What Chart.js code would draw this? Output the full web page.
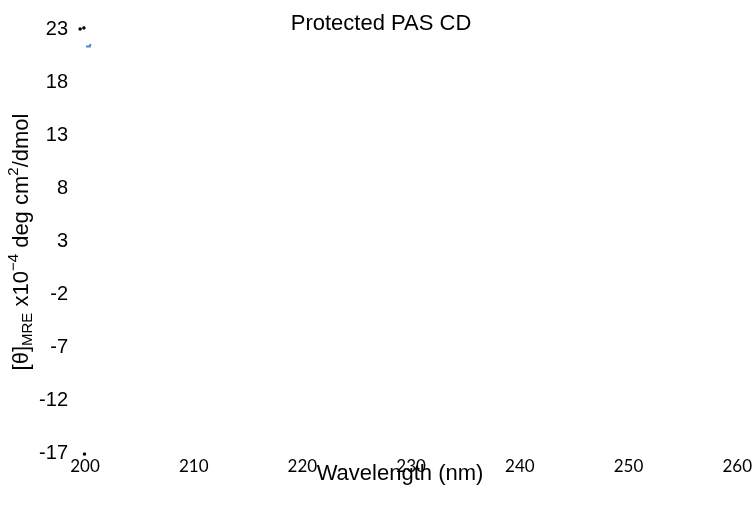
<!DOCTYPE html>
<html>
<head>
<meta charset="utf-8">
<script src="https://cdn.jsdelivr.net/npm/chart.js@4"></script>
<style>
  html, body { margin: 0; padding: 0; background: #fff; }
  #wrap { width: 755px; height: 514px; }
</style>
</head>
<body>
<div id="wrap"><canvas id="myChart"></canvas></div>
<script>
// data (most of the trace falls outside the axis range)
// not sorted on x, so Chart.js keeps every point even left of x = 200
var blackX = [199.9, 199.55, 199.95];
var blackY = [23.1, 23, -17.1];
var blueX = [200.1, 200.45, 200.5];
var blueY = [21.35, 21.35, 21.6];
var xTicks = [200, 210, 220, 230, 240, 250, 260];
var yTicks = [-17, -12, -7, -2, 3, 8, 13, 18, 23];

function pts(xs, ys) {
    return xs.map(function (x, i) { return { x: x, y: ys[i] }; });
}

// titles drawn by hand so the subscript / superscript come out right
var titles = {
    id: 'titles',
    afterDraw: function (chart) {
        var c = chart.ctx;
        c.save();
        c.fillStyle = '#000';
        c.textBaseline = 'middle';
        c.textAlign = 'center';
        c.font = '22px "Liberation Sans", Arial, sans-serif';
        c.fillText('Protected PAS CD', 381, 24);
        c.fillText('Wavelength (nm)', 400, 474);

        // y title, rotated
        var parts = [
            { t: '[θ]', f: 22, dy: 0 },
            { t: 'MRE', f: 15, dy: 6 },
            { t: ' x10', f: 22, dy: 0 },
            { t: '−4', f: 15, dy: -8 },
            { t: ' deg cm', f: 22, dy: 0 },
            { t: '2', f: 15, dy: -8 },
            { t: '/dmol', f: 22, dy: 0 }
        ];
        var total = 0;
        parts.forEach(function (p) {
            c.font = p.f + 'px "Liberation Sans", Arial, sans-serif';
            p.w = c.measureText(p.t).width;
            total += p.w;
        });
        c.translate(22, 242);
        c.rotate(-Math.PI / 2);
        c.textAlign = 'left';
        var x = -total / 2;
        parts.forEach(function (p) {
            c.font = p.f + 'px "Liberation Sans", Arial, sans-serif';
            c.fillText(p.t, x, p.dy);
            x += p.w;
        });
        c.restore();
    }
};

var ctx = document.getElementById('myChart').getContext('2d');
var chart1 = new Chart(ctx, {
    type: 'scatter',
    data: {
        datasets: [{
            label: 'trace',
            data: pts(blackX, blackY),
            backgroundColor: '#000',
            borderColor: '#000',
            pointStyle: 'rect',
            pointRadius: 1.5,
            showLine: false,
            clip: false
        }, {
            label: 'fit',
            data: pts(blueX, blueY),
            borderColor: '#4A86C8',
            borderWidth: 2,
            pointRadius: 0,
            showLine: true,
            clip: false
        }]
    },
    options: {
        responsive: true,
        maintainAspectRatio: false,
        animation: false,
        layout: { padding: { top: 28, right: 12, left: 0, bottom: 0 } },
        plugins: {
            legend: { display: false },
            title: { display: false },
            tooltip: { enabled: false }
        },
        scales: {
            x: {
                type: 'linear',
                min: 200,
                max: 260,
                afterBuildTicks: function (s) { s.ticks = xTicks.map(function (v) { return { value: v }; }); },
                afterFit: function (s) { s.height = 61; },
                grid: { display: false, drawTicks: false },
                border: { display: false },
                ticks: {
                    color: '#000',
                    padding: 3,
                    maxRotation: 0,
                    font: { family: 'Lato, "Open Sans", sans-serif', size: 17 }
                }
            },
            y: {
                min: -17,
                max: 23,
                afterBuildTicks: function (s) { s.ticks = yTicks.map(function (v) { return { value: v }; }); },
                afterFit: function (s) { s.width = 85; },
                grid: { display: false, drawTicks: false },
                border: { display: false },
                ticks: {
                    color: '#000',
                    padding: 17,
                    font: { family: '"Liberation Sans", Arial, sans-serif', size: 20 }
                }
            }
        }
    },
    plugins: [titles]
});
</script>
</body>
</html>
